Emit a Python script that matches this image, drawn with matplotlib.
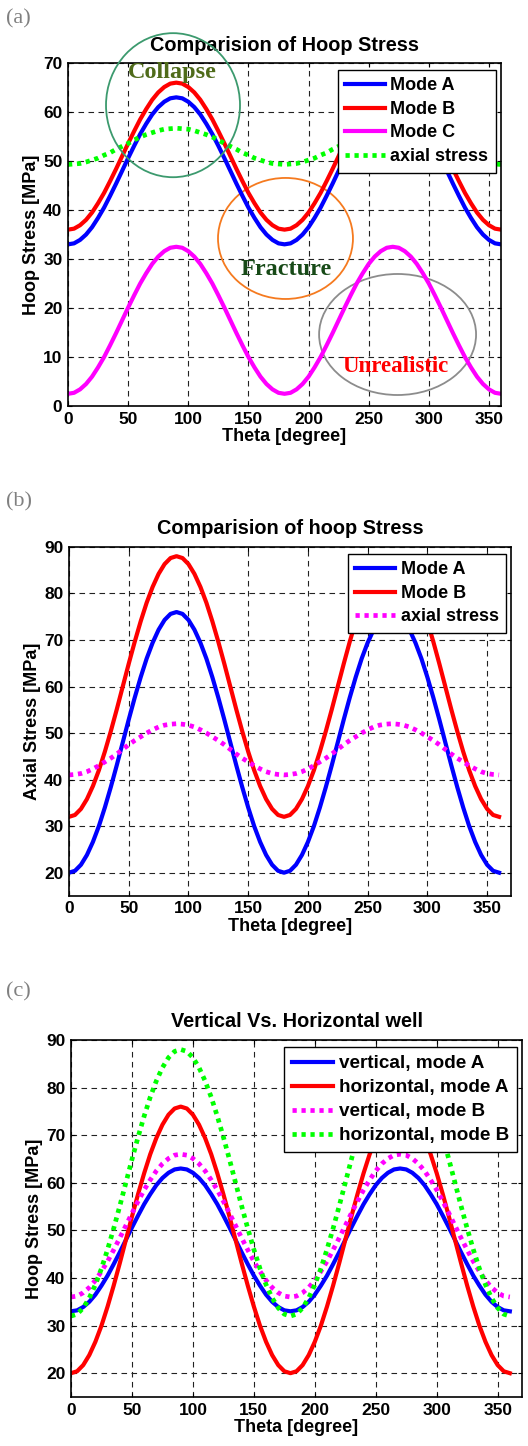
import matplotlib
matplotlib.use('Agg')
import matplotlib.pyplot as plt
from matplotlib.patches import Ellipse

# angle samples, degrees (every 5)
theta = list(range(0, 365, 5))

# (a) hoop stress
a_mode_a = [33.0, 33.2, 33.9, 35.0, 36.5, 38.4, 40.5, 42.9, 45.4, 48.0, 50.6, 53.1, 55.5, 57.6, 59.5, 61.0, 62.1, 62.8, 63.0,
            62.8, 62.1, 61.0, 59.5, 57.6, 55.5, 53.1, 50.6, 48.0, 45.4, 42.9, 40.5, 38.4, 36.5, 35.0, 33.9, 33.2, 33.0,
            33.2, 33.9, 35.0, 36.5, 38.4, 40.5, 42.9, 45.4, 48.0, 50.6, 53.1, 55.5, 57.6, 59.5, 61.0, 62.1, 62.8, 63.0,
            62.8, 62.1, 61.0, 59.5, 57.6, 55.5, 53.1, 50.6, 48.0, 45.4, 42.9, 40.5, 38.4, 36.5, 35.0, 33.9, 33.2, 33.0]
a_mode_b = [36.0, 36.2, 36.9, 38.0, 39.5, 41.4, 43.5, 45.9, 48.4, 51.0, 53.6, 56.1, 58.5, 60.6, 62.5, 64.0, 65.1, 65.8, 66.0,
            65.8, 65.1, 64.0, 62.5, 60.6, 58.5, 56.1, 53.6, 51.0, 48.4, 45.9, 43.5, 41.4, 39.5, 38.0, 36.9, 36.2, 36.0,
            36.2, 36.9, 38.0, 39.5, 41.4, 43.5, 45.9, 48.4, 51.0, 53.6, 56.1, 58.5, 60.6, 62.5, 64.0, 65.1, 65.8, 66.0,
            65.8, 65.1, 64.0, 62.5, 60.6, 58.5, 56.1, 53.6, 51.0, 48.4, 45.9, 43.5, 41.4, 39.5, 38.0, 36.9, 36.2, 36.0]
a_mode_c = [2.5, 2.7, 3.4, 4.5, 6.0, 7.9, 10.0, 12.4, 14.9, 17.5, 20.1, 22.6, 25.0, 27.1, 29.0, 30.5, 31.6, 32.3, 32.5,
            32.3, 31.6, 30.5, 29.0, 27.1, 25.0, 22.6, 20.1, 17.5, 14.9, 12.4, 10.0, 7.9, 6.0, 4.5, 3.4, 2.7, 2.5,
            2.7, 3.4, 4.5, 6.0, 7.9, 10.0, 12.4, 14.9, 17.5, 20.1, 22.6, 25.0, 27.1, 29.0, 30.5, 31.6, 32.3, 32.5,
            32.3, 31.6, 30.5, 29.0, 27.1, 25.0, 22.6, 20.1, 17.5, 14.9, 12.4, 10.0, 7.9, 6.0, 4.5, 3.4, 2.7, 2.5]
a_axial = [49.3, 49.4, 49.5, 49.8, 50.2, 50.6, 51.2, 51.7, 52.4, 53.0, 53.6, 54.3, 54.9, 55.4, 55.8, 56.2, 56.5, 56.6, 56.7,
           56.6, 56.5, 56.2, 55.8, 55.4, 54.9, 54.3, 53.6, 53.0, 52.4, 51.7, 51.2, 50.6, 50.2, 49.8, 49.5, 49.4, 49.3,
           49.4, 49.5, 49.8, 50.2, 50.6, 51.2, 51.7, 52.4, 53.0, 53.6, 54.3, 54.9, 55.4, 55.8, 56.2, 56.5, 56.6, 56.7,
           56.6, 56.5, 56.2, 55.8, 55.4, 54.9, 54.3, 53.6, 53.0, 52.4, 51.7, 51.2, 50.6, 50.2, 49.8, 49.5, 49.4, 49.3]

# (b) axial stress
b_mode_a = [20.0, 20.4, 21.7, 23.8, 26.6, 30.0, 34.0, 38.4, 43.1, 48.0, 52.9, 57.6, 62.0, 66.0, 69.4, 72.2, 74.3, 75.6, 76.0,
            75.6, 74.3, 72.2, 69.4, 66.0, 62.0, 57.6, 52.9, 48.0, 43.1, 38.4, 34.0, 30.0, 26.6, 23.8, 21.7, 20.4, 20.0,
            20.4, 21.7, 23.8, 26.6, 30.0, 34.0, 38.4, 43.1, 48.0, 52.9, 57.6, 62.0, 66.0, 69.4, 72.2, 74.3, 75.6, 76.0,
            75.6, 74.3, 72.2, 69.4, 66.0, 62.0, 57.6, 52.9, 48.0, 43.1, 38.4, 34.0, 30.0, 26.6, 23.8, 21.7, 20.4, 20.0]
b_mode_b = [32.0, 32.4, 33.7, 35.8, 38.6, 42.0, 46.0, 50.4, 55.1, 60.0, 64.9, 69.6, 74.0, 78.0, 81.4, 84.2, 86.3, 87.6, 88.0,
            87.6, 86.3, 84.2, 81.4, 78.0, 74.0, 69.6, 64.9, 60.0, 55.1, 50.4, 46.0, 42.0, 38.6, 35.8, 33.7, 32.4, 32.0,
            32.4, 33.7, 35.8, 38.6, 42.0, 46.0, 50.4, 55.1, 60.0, 64.9, 69.6, 74.0, 78.0, 81.4, 84.2, 86.3, 87.6, 88.0,
            87.6, 86.3, 84.2, 81.4, 78.0, 74.0, 69.6, 64.9, 60.0, 55.1, 50.4, 46.0, 42.0, 38.6, 35.8, 33.7, 32.4, 32.0]
b_axial = [41.0, 41.1, 41.3, 41.7, 42.3, 43.0, 43.8, 44.6, 45.5, 46.5, 47.5, 48.4, 49.2, 50.0, 50.7, 51.3, 51.7, 51.9, 52.0,
           51.9, 51.7, 51.3, 50.7, 50.0, 49.2, 48.4, 47.5, 46.5, 45.5, 44.6, 43.8, 43.0, 42.3, 41.7, 41.3, 41.1, 41.0,
           41.1, 41.3, 41.7, 42.3, 43.0, 43.8, 44.6, 45.5, 46.5, 47.5, 48.4, 49.2, 50.0, 50.7, 51.3, 51.7, 51.9, 52.0,
           51.9, 51.7, 51.3, 50.7, 50.0, 49.2, 48.4, 47.5, 46.5, 45.5, 44.6, 43.8, 43.0, 42.3, 41.7, 41.3, 41.1, 41.0]

# (c) vertical vs horizontal well (same curves as a/b)
c_vert_a = a_mode_a
c_horiz_a = b_mode_a
c_vert_b = a_mode_b
c_horiz_b = b_mode_b

SANS = ['Liberation Sans', 'DejaVu Sans']
SERIF = ['Liberation Serif', 'DejaVu Serif']
plt.rcParams['font.family'] = SANS
plt.rcParams['font.weight'] = 'bold'

LW = 3.0
DOT = (0, (0.9, 1.0))


def style_axes(ax, xlim, ylim, yticks, title, ylabel):
  ax.set_xlim(*xlim)
  ax.set_ylim(*ylim)
  ax.set_xticks([0, 50, 100, 150, 200, 250, 300, 350])
  ax.set_yticks(yticks)
  ax.grid(True, color='#222222', linestyle=(0, (5, 4)), linewidth=0.8)
  ax.set_axisbelow(True)
  ax.tick_params(direction='in', top=True, right=True, labelsize=12.5, length=3, pad=4)
  for lab in ax.get_xticklabels() + ax.get_yticklabels():
    lab.set_fontweight('bold')
  for sp in ax.spines.values():
    sp.set_linewidth(1.2)
  ax.set_title(title, fontsize=14.3, fontweight='bold', pad=9)
  ax.set_xlabel('Theta [degree]', fontsize=13, fontweight='bold', labelpad=1)
  ax.set_ylabel(ylabel, fontsize=13, fontweight='bold', labelpad=2)


def add_legend(ax, loc_box, size=13):
  leg = ax.legend(loc='upper right', bbox_to_anchor=loc_box, fancybox=False, framealpha=1,
                  edgecolor='black', prop={'weight': 'bold', 'size': size},
                  handlelength=2.2, handletextpad=0.3, borderpad=0.42, labelspacing=0.36,
                  borderaxespad=0)
  leg.get_frame().set_linewidth(1.0)
  leg.set_zorder(10)


fig = plt.figure(figsize=(5.28, 14.46), dpi=100)

# ---- (a) ----
ax1 = fig.add_axes([0.1288, 0.7192, 0.8201, 0.2372])
ax1.plot(theta, a_mode_a, color='#0000ff', lw=LW, label='Mode A')
ax1.plot(theta, a_mode_b, color='#ff0000', lw=LW, label='Mode B')
ax1.plot(theta, a_mode_c, color='#ff00ff', lw=LW, label='Mode C')
ax1.plot(theta, a_axial, color='#00ff00', lw=LW + 0.4, ls=DOT, label='axial stress')
style_axes(ax1, (0, 360), (0, 70), [0, 10, 20, 30, 40, 50, 60, 70],
           'Comparision of Hoop Stress', 'Hoop Stress [MPa]')
add_legend(ax1, (0.988, 0.98))

ax1.add_patch(Ellipse((87.3, 61.4), 111.4, 29.4, fill=False, edgecolor='#3c9a6e', lw=1.3, clip_on=False, zorder=4))
ax1.add_patch(Ellipse((180.8, 34.2), 112.2, 24.7, fill=False, edgecolor='#f57a1f', lw=1.3, clip_on=False, zorder=1.5))
ax1.add_patch(Ellipse((274.0, 14.6), 130.5, 24.7, fill=False, edgecolor='#8c8c8c', lw=1.3, clip_on=False, zorder=1.5))
ax1.text(86.9, 68.0, 'Collapse', family=SERIF, fontsize=17.5, fontweight='bold', color='#4f6b1a',
         ha='center', va='center', zorder=11)
ax1.text(181, 27.8, 'Fracture', family=SERIF, fontsize=17.5, fontweight='bold', color='#174a17',
         ha='center', va='center', zorder=11)
ax1.text(272, 8.0, 'Unrealistic', family=SERIF, fontsize=16.5, fontweight='bold', color='#ff0000',
         ha='center', va='center', zorder=11)

# ---- (b) ----
ax2 = fig.add_axes([0.1307, 0.3804, 0.8371, 0.2414])
ax2.plot(theta, b_mode_a, color='#0000ff', lw=LW, label='Mode A')
ax2.plot(theta, b_mode_b, color='#ff0000', lw=LW, label='Mode B')
ax2.plot(theta, b_axial, color='#ff00ff', lw=LW + 0.4, ls=DOT, label='axial stress')
style_axes(ax2, (0, 370), (15, 90), [20, 30, 40, 50, 60, 70, 80, 90],
           'Comparision of hoop Stress', 'Axial Stress [MPa]')
add_legend(ax2, (0.989, 0.98))

# ---- (c) ----
ax3 = fig.add_axes([0.1345, 0.0339, 0.8542, 0.2469])
ax3.plot(theta, c_vert_a, color='#0000ff', lw=LW, label='vertical, mode A')
ax3.plot(theta, c_horiz_a, color='#ff0000', lw=LW, label='horizontal, mode A')
ax3.plot(theta, c_vert_b, color='#ff00ff', lw=LW + 0.4, ls=DOT, label='vertical, mode B')
ax3.plot(theta, c_horiz_b, color='#00ff00', lw=LW + 0.4, ls=DOT, label='horizontal, mode B')
style_axes(ax3, (0, 370), (15, 90), [20, 30, 40, 50, 60, 70, 80, 90],
           'Vertical Vs. Horizontal well', 'Hoop Stress [MPa]')
add_legend(ax3, (0.989, 0.98), size=13.6)

# panel letters
for lbl, y in [('(a)', 1446 - 19), ('(b)', 1446 - 502), ('(c)', 1446 - 992)]:
  fig.text(6 / 528, y / 1446, lbl, family=SERIF, fontsize=16, fontweight='normal',
           color='#808080', va='center', ha='left')

fig.savefig('out.png', dpi=100)
